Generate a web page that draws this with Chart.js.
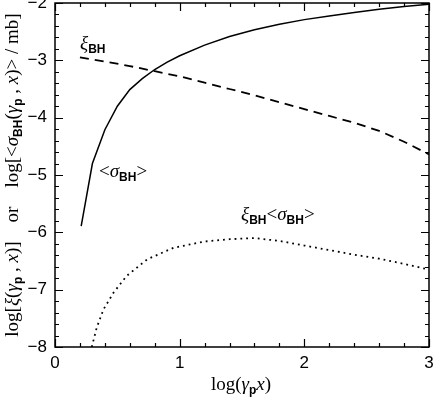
<!DOCTYPE html>
<html>
<head>
<meta charset="utf-8">
<script src="https://cdn.jsdelivr.net/npm/chart.js@4.4.1/dist/chart.umd.min.js"></script>
<style>
  html, body { margin: 0; padding: 0; background: #fff; }
  #wrap { width: 433px; height: 397px; }
</style>
</head>
<body>
<div id="wrap"><canvas id="c" width="433" height="397"></canvas></div>
<script>
// values
const sigmaX = [0.21, 0.30, 0.40, 0.50, 0.60, 0.70, 0.80, 0.90, 1.0, 1.2, 1.4, 1.6, 1.8, 2.0, 2.2, 2.4, 2.6, 2.8, 3.0];
const sigmaY = [-5.89, -4.80, -4.21, -3.80, -3.51, -3.32, -3.16, -3.03, -2.92, -2.735, -2.585, -2.465, -2.37, -2.29, -2.225, -2.165, -2.11, -2.06, -2.02];

const xiX = [0.2, 0.4, 0.6, 0.8, 1.0, 1.2, 1.4, 1.6, 1.8, 2.0, 2.2, 2.4, 2.6, 2.8, 3.0];
const xiY = [-2.95, -3.02, -3.10, -3.19, -3.28, -3.39, -3.50, -3.61, -3.73, -3.85, -3.97, -4.09, -4.23, -4.42, -4.64];

const prodX = [0.295, 0.335, 0.39, 0.47, 0.575, 0.74, 0.95, 1.2, 1.4, 1.6, 1.8, 2.0, 2.2, 2.4, 2.6, 2.8, 3.0];
const prodY = [-8.0, -7.66, -7.34, -7.05, -6.76, -6.47, -6.27, -6.16, -6.12, -6.10, -6.15, -6.23, -6.31, -6.39, -6.46, -6.55, -6.65];

const xTicks = [0, 1, 2, 3];
const yTicks = [-8, -7, -6, -5, -4, -3, -2];

const pts = (xs, ys) => xs.map((x, i) => ({ x: x, y: ys[i] }));

const serif = '"Liberation Serif", "DejaVu Serif", serif';
const sans = '"Liberation Sans", Arial, sans-serif';

// draw a run of text pieces: [text, font, dy]
function richWidth(ctx, parts) {
  let w = 0;
  parts.forEach(p => { ctx.font = p[1]; w += ctx.measureText(p[0]).width; });
  return w;
}
function drawRich(ctx, parts, x, y) {
  let cx = x;
  parts.forEach(p => {
    ctx.font = p[1];
    ctx.fillText(p[0], cx, y + (p[2] || 0));
    cx += ctx.measureText(p[0]).width;
  });
}

const R = '19px ' + serif, I = 'italic 19px ' + serif, S = 'bold 12px ' + sans;

// ticks inside on all four sides + labels
const frame = {
  id: 'frame',
  afterDraw(chart) {
    const ctx = chart.ctx, a = chart.chartArea;
    const xs = chart.scales.x, ys = chart.scales.y;
    ctx.save();
    ctx.strokeStyle = '#000';
    ctx.lineWidth = 1.5;
    ctx.strokeRect(a.left, a.top, a.right - a.left, a.bottom - a.top);
    ctx.lineWidth = 1.2;
    for (let k = 0; k <= 15; k++) {
      const v = k * 0.2;
      const px = Math.round(xs.getPixelForValue(v)) + 0.5;
      const len = k % 5 === 0 ? 8 : 4;
      ctx.beginPath();
      ctx.moveTo(px, a.bottom); ctx.lineTo(px, a.bottom - len);
      ctx.moveTo(px, a.top); ctx.lineTo(px, a.top + len);
      ctx.stroke();
    }
    for (let k = 0; k <= 30; k++) {
      const v = -8 + k * 0.2;
      const py = Math.round(ys.getPixelForValue(v)) + 0.5;
      const len = k % 5 === 0 ? 8 : 4;
      ctx.beginPath();
      ctx.moveTo(a.left, py); ctx.lineTo(a.left + len, py);
      ctx.moveTo(a.right, py); ctx.lineTo(a.right - len, py);
      ctx.stroke();
    }
    // tick labels
    ctx.fillStyle = '#000';
    ctx.font = '17px ' + sans;
    ctx.textAlign = 'center';
    ctx.textBaseline = 'middle';
    xTicks.forEach(v => ctx.fillText(String(v), xs.getPixelForValue(v), a.bottom + 16));
    ctx.textAlign = 'right';
    yTicks.forEach(v => ctx.fillText(String(v).replace('-', '\u2212'), a.left - 8, ys.getPixelForValue(v)));

    ctx.textAlign = 'left';
    ctx.textBaseline = 'alphabetic';
    // x title
    const xt = [['log(', R], ['\u03b3', I], ['p', S, 4], ['x', I], [')', R]];
    const xw = richWidth(ctx, xt);
    drawRich(ctx, xt, 241 - xw / 2, 390);
    // y title
    const yt = [['log[', R], ['\u03be', I], ['(', R], ['\u03b3', I], ['p', S, 4], [' , ', R], ['x', I], [')]', R],
      ['    or    log[<', R], ['\u03c3', I], ['BH', S, 4], ['(', R], ['\u03b3', I], ['p', S, 4], [' , ', R], ['x', I], [')> / mb]', R]];
    const yw = richWidth(ctx, yt);
    ctx.save();
    ctx.translate(18, (a.top + a.bottom) / 2);
    ctx.rotate(-Math.PI / 2);
    drawRich(ctx, yt, -yw / 2, 0);
    ctx.restore();
    // curve labels
    const L = 'italic 19px ' + serif;
    drawRich(ctx, [['\u03be', L], ['BH', S, 4]], 80, 49);
    drawRich(ctx, [['<', R], ['\u03c3', L], ['BH', S, 4], ['>', R]], 99, 177);
    drawRich(ctx, [['\u03be', L], ['BH', S, 4], ['<', R], ['\u03c3', L], ['BH', S, 4], ['>', R]], 241, 220);
    ctx.restore();
  }
};

new Chart(document.getElementById('c'), {
  type: 'line',
  data: {
    datasets: [
      { data: pts(sigmaX, sigmaY), borderColor: '#000', borderWidth: 1.5 },
      { data: pts(xiX, xiY), borderColor: '#000', borderWidth: 1.8, borderDash: [9, 6] },
      { data: pts(prodX, prodY), borderColor: '#000', borderWidth: 1.8, borderDash: [1.8, 4] }
    ]
  },
  options: {
    responsive: false,
    animation: false,
    events: [],
    elements: { point: { radius: 0 }, line: { tension: 0 } },
    layout: { padding: { top: 3, right: 4, left: 0, bottom: 0 } },
    plugins: { legend: { display: false }, tooltip: { enabled: false } },
    scales: {
      x: {
        type: 'linear', min: 0, max: 3,
        grid: { display: false }, border: { display: false },
        ticks: { display: false },
        afterFit: s => { s.height = 50; }
      },
      y: {
        type: 'linear', min: -8, max: -2,
        grid: { display: false }, border: { display: false },
        ticks: { display: false },
        afterFit: s => { s.width = 55; }
      }
    }
  },
  plugins: [frame]
});
</script>
</body>
</html>
